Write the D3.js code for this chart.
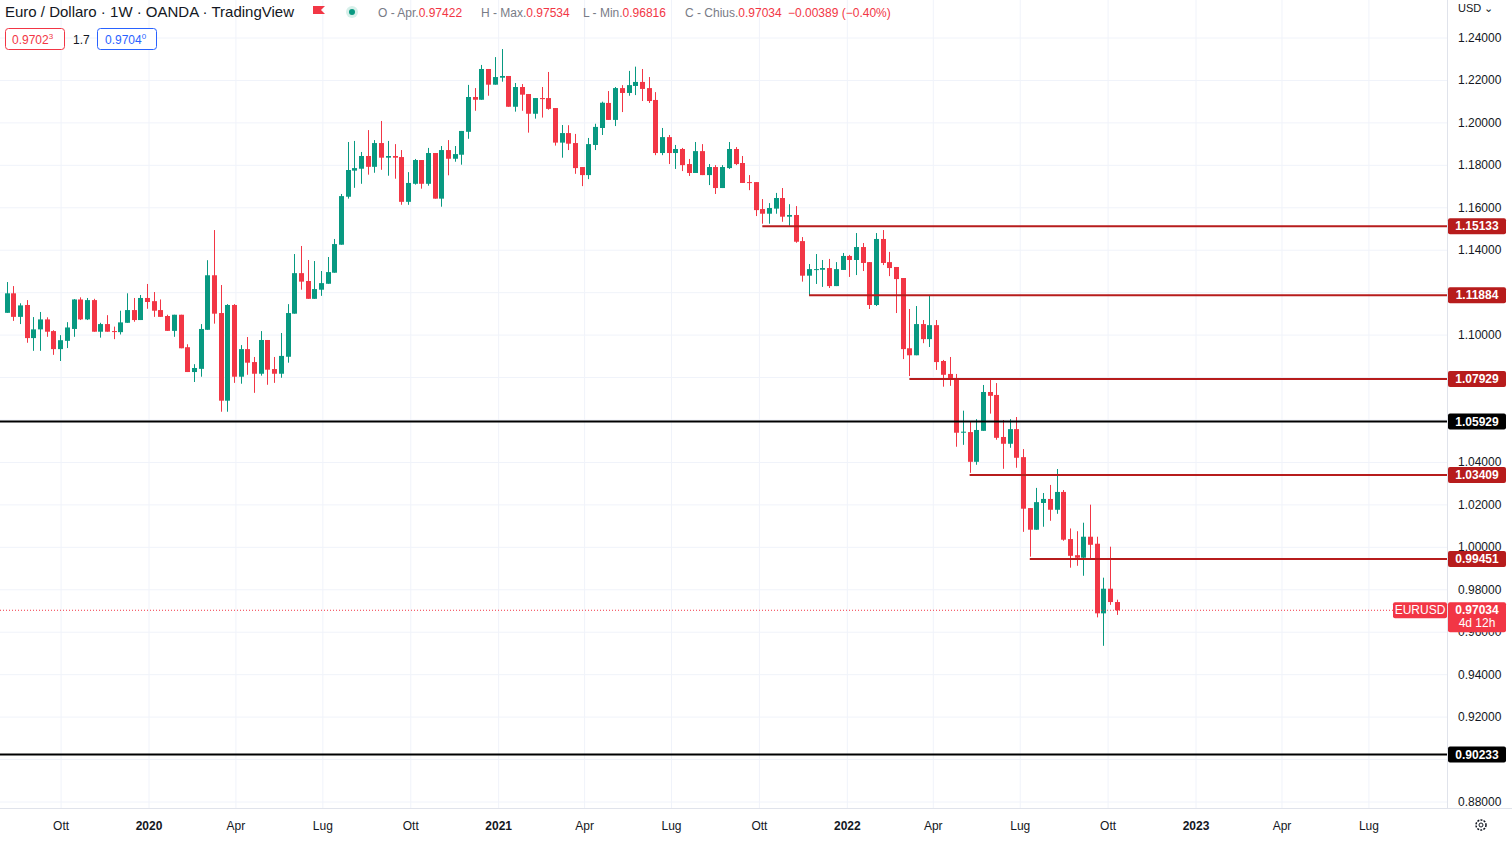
<!DOCTYPE html>
<html><head><meta charset="utf-8">
<script src="https://cdn.jsdelivr.net/npm/d3@7"></script>
<style>html,body{margin:0;padding:0;background:#fff;overflow:hidden}svg{display:block;font-family:"Liberation Sans",Arial,sans-serif}</style>
</head><body><svg id="c" width="1512" height="841"></svg>
<script>
const firstWeek = "2019-08-05";
const opens = [1.1105,1.1197,1.1086,1.1142,1.0986,1.1027,1.1074,1.1019,1.0934,1.0973,1.1029,1.1168,1.1074,1.1165,1.1016,1.1052,1.1019,1.1014,1.1058,1.1118,1.1071,1.1175,1.1160,1.1118,1.1090,1.1020,1.1096,1.0943,1.0826,1.0841,
1.1025,1.1282,1.1104,1.0691,1.1142,1.0804,1.0934,1.0873,1.0818,1.0977,1.0840,1.0818,1.0898,1.1101,1.1292,1.1255,1.1171,1.1214,1.1242,1.1294,
1.1426,1.1652,1.1775,1.1784,1.1844,1.1793,1.1905,1.1836,1.1844,1.1839,1.1628,1.1713,1.1825,1.1713,1.1858,1.1643,1.1872,1.1831,1.1850,1.1958,
1.2122,1.2109,1.2254,1.2180,1.2213,1.2221,1.2076,1.2169,1.2136,1.2043,1.2117,1.2117,1.2070,1.1907,1.1952,1.1905,1.1792,1.1754,1.1896,1.1976,
1.2094,1.2014,1.2164,1.2141,1.2174,1.2193,1.2164,1.2108,1.1858,1.1933,1.1858,1.1877,1.1806,1.1764,1.1867,1.1754,1.1792,1.1693,1.1787,1.1877,
1.1811,1.1721,1.1721,1.1594,1.1572,1.1596,1.1646,1.1558,1.1566,1.1443,1.1280,1.1307,1.1308,1.1316,1.1231,1.1307,1.1373,1.1354,1.1415,1.1344,
1.1142,1.1453,1.1344,1.1321,1.1269,1.0938,1.0905,1.1052,1.0981,1.1047,1.0878,1.0817,1.0798,1.0540,1.0543,1.0403,1.0549,1.0732,1.0718,1.0520,
1.0488,1.0557,1.0425,1.0185,1.0083,1.0209,1.0228,1.0177,1.0261,1.0039,0.9963,0.9951,1.0050,1.0017,0.9689,0.9805,0.97422];
const highs = [1.1250,1.1231,1.1150,1.1165,1.1085,1.1109,1.1084,1.1023,1.1000,1.1061,1.1170,1.1178,1.1175,1.1171,1.1058,1.1094,1.1040,1.1115,1.1197,1.1175,1.1189,1.1241,1.1203,1.1168,1.1096,1.1096,1.1096,1.0957,1.0863,1.1052,
1.1353,1.1495,1.1236,1.1146,1.1146,1.0953,1.0991,1.0897,1.1019,1.0977,1.0897,1.1010,1.1146,1.1382,1.1420,1.1354,1.1349,1.1302,1.1368,1.1453,
1.1665,1.1910,1.1915,1.1863,1.1966,1.1919,1.2009,1.1915,1.1900,1.1872,1.1768,1.1830,1.1825,1.1882,1.1858,1.1891,1.1919,1.1891,1.1962,1.2179,
1.2164,1.2273,1.2254,1.2310,1.2348,1.2221,1.2188,1.2183,1.2136,1.2117,1.2169,1.2240,1.2070,1.1990,1.1989,1.1948,1.1792,1.1929,1.1996,1.2100,
1.2150,1.2169,1.2178,1.2245,1.2265,1.2254,1.2216,1.2145,1.1976,1.1943,1.1896,1.1882,1.1830,1.1910,1.1900,1.1806,1.1801,1.1801,1.1910,1.1886,
1.1844,1.1754,1.1721,1.1641,1.1622,1.1670,1.1693,1.1617,1.1608,1.1462,1.1335,1.1382,1.1354,1.1359,1.1344,1.1387,1.1378,1.1481,1.1434,1.1344,
1.1481,1.1495,1.1392,1.1321,1.1269,1.1123,1.1137,1.1071,1.1189,1.1071,1.0883,1.0897,1.0817,1.0644,1.0592,1.0604,1.0765,1.0793,1.0774,1.0600,
1.0604,1.0614,1.0463,1.0185,1.0280,1.0256,1.0294,1.0369,1.0270,1.0089,1.0076,1.0116,1.0201,1.0050,0.9857,1.0003,0.97534];
const lows = [1.1105,1.1067,1.1052,1.0964,1.0926,1.0926,1.0992,1.0907,1.0878,1.0939,1.0992,1.1071,1.1071,1.1016,1.0988,1.1016,1.0981,1.1003,1.1058,1.1063,1.1071,1.1124,1.1086,1.1086,1.1020,1.0992,1.0938,1.0826,1.0779,1.0804,
1.1025,1.1054,1.0639,1.0639,1.0775,1.0771,1.0813,1.0728,1.0809,1.0766,1.0775,1.0799,1.0870,1.1101,1.1214,1.1171,1.1171,1.1185,1.1242,1.1294,
1.1426,1.1643,1.1694,1.1713,1.1756,1.1765,1.1779,1.1751,1.1737,1.1614,1.1614,1.1709,1.1690,1.1704,1.1643,1.1605,1.1753,1.1817,1.1803,1.1925,
1.2057,1.2109,1.2128,1.2180,1.2194,1.2076,1.2053,1.2057,1.1954,1.2020,1.2025,1.2062,1.1893,1.1836,1.1872,1.1760,1.1702,1.1735,1.1872,1.1943,
1.2014,1.1985,1.2051,1.2128,1.2131,1.2103,1.2094,1.1848,1.1848,1.1806,1.1783,1.1773,1.1750,1.1764,1.1754,1.1707,1.1665,1.1693,1.1783,1.1801,
1.1717,1.1683,1.1561,1.1525,1.1525,1.1572,1.1534,1.1515,1.1435,1.1252,1.1186,1.1241,1.1227,1.1222,1.1231,1.1307,1.1274,1.1283,1.1302,1.1123,
1.1137,1.1330,1.1278,1.1104,1.0887,1.0807,1.0905,1.0962,1.0944,1.0836,1.0757,1.0761,1.0474,1.0483,1.0351,1.0389,1.0549,1.0630,1.0507,1.0370,
1.0469,1.0375,1.0073,0.9956,1.0083,1.0097,1.0125,1.0158,1.0031,0.9904,0.9913,0.9866,0.9946,0.9670,0.9536,0.9729,0.96816];
const closes = [1.1197,1.1086,1.1140,1.0986,1.1027,1.1074,1.1016,1.0934,1.0976,1.1036,1.1168,1.1074,1.1165,1.1016,1.1052,1.1016,1.1016,1.1060,1.1118,1.1071,1.1175,1.1156,1.1115,1.1086,1.1020,1.1096,1.0938,1.0826,1.0845,1.1029,
1.1282,1.1101,1.0691,1.1142,1.0804,1.0934,1.0870,1.0818,1.0977,1.0837,1.0818,1.0902,1.1104,1.1292,1.1252,1.1171,1.1217,1.1245,1.1297,1.1429,
1.1655,1.1778,1.1787,1.1844,1.1793,1.1905,1.1836,1.1844,1.1836,1.1628,1.1717,1.1825,1.1713,1.1858,1.1643,1.1872,1.1831,1.1853,1.1962,1.2122,
1.2109,1.2254,1.2180,1.2216,1.2221,1.2076,1.2169,1.2133,1.2043,1.2117,1.2112,1.2066,1.1907,1.1952,1.1902,1.1787,1.1754,1.1900,1.1981,1.2095,
1.2014,1.2164,1.2141,1.2178,1.2193,1.2160,1.2103,1.1858,1.1933,1.1858,1.1877,1.1801,1.1764,1.1867,1.1754,1.1792,1.1693,1.1792,1.1877,1.1806,
1.1717,1.1717,1.1589,1.1572,1.1599,1.1646,1.1558,1.1566,1.1440,1.1280,1.1311,1.1311,1.1316,1.1231,1.1311,1.1373,1.1354,1.1415,1.1340,1.1142,
1.1453,1.1340,1.1316,1.1264,1.0934,1.0905,1.1052,1.0981,1.1047,1.0873,1.0813,1.0795,1.0540,1.0545,1.0403,1.0553,1.0732,1.0714,1.0516,1.0488,
1.0557,1.0422,1.0182,1.0083,1.0213,1.0228,1.0177,1.0261,1.0036,0.9960,0.9951,1.0050,1.0012,0.9689,0.9805,0.97422,0.97034];

const priceTicks = [1.24,1.22,1.20,1.18,1.16,1.14,1.12,1.10,1.08,1.06,1.04,1.02,1.00,0.98,0.96,0.94,0.92,0.90,0.88];
const monthNames = ["Gen","Feb","Mar","Apr","Mag","Giu","Lug","Ago","Set","Ott","Nov","Dic"];
const redLevels = [1.15133,1.11884,1.07929,1.03409,0.99451];
const redLevelStart = ["2021-10-04","2021-11-22","2022-03-07","2022-05-09","2022-07-11"];
const blackLevels = [1.05929,0.90233];
const lastPrice = 0.97034;

const green="#089981", red="#f23645", lvl="#b71c1c";
const svg=d3.select("#c");
const W=1447, B=808;
const data = opens.map((o,i)=>({d:d3.timeMonday.offset(new Date(firstWeek+"T00:00:00"),i),o,h:highs[i],l:lows[i],c:closes[i]}));
const x=d3.scaleTime().domain([new Date(2020,0,1),new Date(2023,0,1)]).range([149,1196]);
const y=d3.scaleLinear().domain([0.88,1.24]).range([802,38]);

const mTicks=d3.timeMonth.every(3).range(new Date(2019,9,1),new Date(2023,7,2));
svg.append("g").selectAll("line").data(mTicks).join("line")
 .attr("x1",d=>x(d)).attr("x2",d=>x(d)).attr("y1",0).attr("y2",B).attr("stroke","#f0f3fa");
svg.append("g").selectAll("line").data(priceTicks).join("line")
 .attr("x1",0).attr("x2",W).attr("y1",d=>y(d)).attr("y2",d=>y(d)).attr("stroke","#f0f3fa");

svg.append("line").attr("x1",W+0.5).attr("x2",W+0.5).attr("y1",0).attr("y2",B).attr("stroke","#e0e3eb");
svg.append("line").attr("x1",0).attr("x2",1512).attr("y1",B+0.5).attr("y2",B+0.5).attr("stroke","#e0e3eb");

const tagged = redLevels.concat(blackLevels);
const visTicks = priceTicks.filter(t=>!tagged.some(v=>Math.abs(y(v)-y(t))<8));
svg.append("g").selectAll("text").data(visTicks).join("text")
 .attr("x",1458).attr("y",d=>y(d)+4).attr("font-size",12).attr("fill","#131722").text(d=>d.toFixed(5));
svg.append("g").selectAll("text").data(mTicks).join("text")
 .attr("x",d=>x(d)).attr("y",830).attr("text-anchor","middle").attr("font-size",12).attr("fill","#131722")
 .attr("font-weight",d=>d.getMonth()===0?"bold":"normal")
 .text(d=>d.getMonth()===0?d.getFullYear():monthNames[d.getMonth()]);

const g=svg.append("g");
g.selectAll("line").data(data).join("line")
 .attr("x1",d=>Math.round(x(d.d))+0.5).attr("x2",d=>Math.round(x(d.d))+0.5)
 .attr("y1",d=>y(d.h)).attr("y2",d=>y(d.l)).attr("stroke",d=>d.c>=d.o?green:red);
g.selectAll("rect").data(data).join("rect")
 .attr("x",d=>Math.round(x(d.d))-2).attr("width",5)
 .attr("y",d=>y(Math.max(d.o,d.c))).attr("height",d=>Math.max(1,Math.abs(y(d.o)-y(d.c))))
 .attr("fill",d=>d.c>=d.o?green:red);

redLevels.forEach((v,i)=>{
  svg.append("line").attr("x1",x(new Date(redLevelStart[i]+"T00:00:00"))).attr("x2",W).attr("y1",y(v)).attr("y2",y(v)).attr("stroke",lvl).attr("stroke-width",2);
});
blackLevels.forEach(v=>{
  svg.append("line").attr("x1",0).attr("x2",W).attr("y1",y(v)).attr("y2",y(v)).attr("stroke","#000").attr("stroke-width",2);
});
svg.append("line").attr("x1",0).attr("x2",W).attr("y1",y(lastPrice)).attr("y2",y(lastPrice)).attr("stroke",red).attr("stroke-dasharray","1,2");

function tag(v,fill,lines){
  const h=lines.length>1?30:16;
  const yy=y(v)-8;
  svg.append("rect").attr("x",1448).attr("y",yy).attr("width",58).attr("height",h).attr("rx",2).attr("fill",fill);
  lines.forEach((t,k)=>svg.append("text").attr("x",1477).attr("y",yy+12+k*13).attr("text-anchor","middle")
    .attr("font-size",12).attr("font-weight",k===0?"bold":"normal").attr("fill","#fff").text(t));
}
redLevels.forEach(v=>tag(v,lvl,[v.toFixed(5)]));
blackLevels.forEach(v=>tag(v,"#000",[v.toFixed(5)]));
tag(lastPrice,red,[lastPrice.toFixed(5),"4d 12h"]);
svg.append("rect").attr("x",1393).attr("y",y(lastPrice)-8).attr("width",54).attr("height",16).attr("rx",2).attr("fill",red);
svg.append("text").attr("x",1420).attr("y",y(lastPrice)+4).attr("text-anchor","middle").attr("font-size",12).attr("fill","#fff").text("EURUSD");

svg.append("text").attr("x",5).attr("y",17).attr("font-size",15).attr("fill","#131722").text("Euro / Dollaro · 1W · OANDA · TradingView");
svg.append("path").attr("d","M313,6 h12 l-4,4 l4,4 h-12 z").attr("fill",red);
svg.append("circle").attr("cx",352).attr("cy",12).attr("r",6).attr("fill","#d7f0ea");
svg.append("circle").attr("cx",352).attr("cy",12).attr("r",3).attr("fill",green);
const hdr=[["O - Apr.",378,"0.97422"],["H - Max.",481,"0.97534"],["L - Min.",583,"0.96816"],["C - Chius.",685,"0.97034"]];
hdr.forEach(([lab,xx,val])=>{
  const t=svg.append("text").attr("x",xx).attr("y",17).attr("font-size",12);
  t.append("tspan").attr("fill","#787b86").text(lab);
  t.append("tspan").attr("fill",red).text(val);
});
svg.append("text").attr("x",788).attr("y",17).attr("font-size",12).attr("fill",red).text("−0.00389 (−0.40%)");
svg.append("rect").attr("x",5.5).attr("y",28.5).attr("width",59).attr("height",21).attr("rx",3).attr("fill","#fff").attr("stroke",red);
const t1=svg.append("text").attr("x",12).attr("y",44).attr("font-size",12).attr("fill",red).text("0.9702");
t1.append("tspan").attr("font-size",8).attr("dy",-5).text("3");
svg.append("text").attr("x",73).attr("y",44).attr("font-size",12).attr("fill","#131722").text("1.7");
svg.append("rect").attr("x",97.5).attr("y",28.5).attr("width",59).attr("height",21).attr("rx",3).attr("fill","#fff").attr("stroke","#2962ff");
const t2=svg.append("text").attr("x",105).attr("y",44).attr("font-size",12).attr("fill","#2962ff").text("0.9704");
t2.append("tspan").attr("font-size",8).attr("dy",-5).text("0");
svg.append("text").attr("x",1458).attr("y",12).attr("font-size",11).attr("fill","#131722").text("USD ⌄");
svg.append("circle").attr("cx",1481).attr("cy",825).attr("r",5).attr("fill","none").attr("stroke","#131722").attr("stroke-width",1.5).attr("stroke-dasharray","2,1.2");
svg.append("circle").attr("cx",1481).attr("cy",825).attr("r",2).attr("fill","none").attr("stroke","#131722");
</script></body></html>
